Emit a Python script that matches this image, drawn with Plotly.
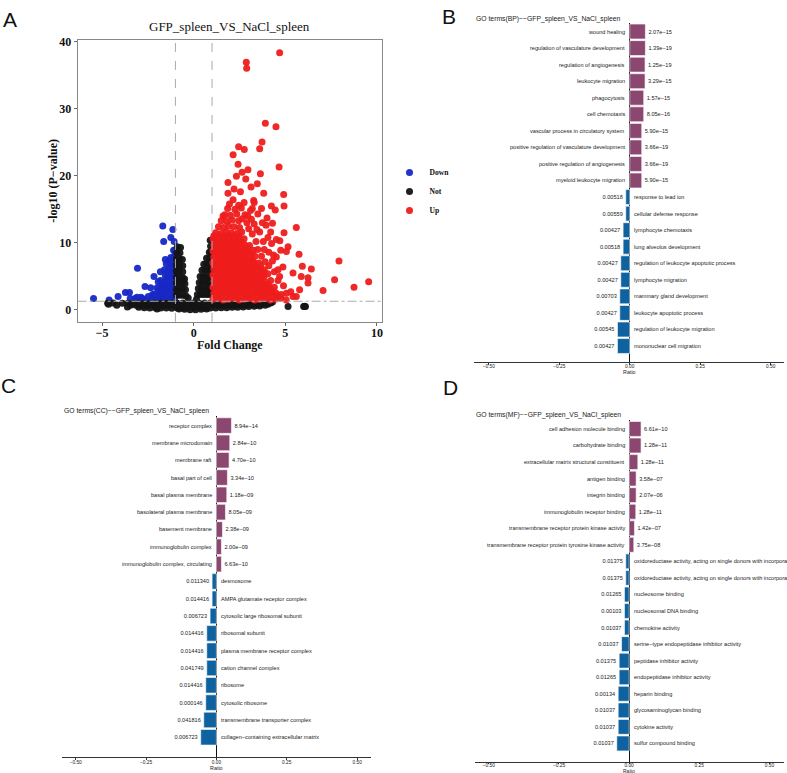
import plotly.graph_objects as go

SERIF = "Liberation Serif, Times New Roman, serif"
SANS = "Liberation Sans, Arial, sans-serif"
MINUS = "\u2212"

# ---------------- Panel A : volcano data ----------------
UP_POINTS = [
    (4.69, 38.3), (2.87, 36.9), (2.89, 36.0), (3.91, 27.8), (4.49, 27.3), (3.73, 25.0),
    (2.45, 24.3), (2.76, 23.9), (3.60, 24.0), (2.15, 23.1), (4.66, 21.3), (2.42, 21.7),
    (2.96, 20.9), (2.64, 20.5), (2.33, 19.9), (1.87, 19.0), (3.64, 20.3), (2.84, 19.5),
    (4.91, 17.2), (4.93, 15.5), (1.87, 17.4), (3.13, 18.3), (3.47, 18.8), (3.82, 17.4),
    (4.24, 15.5), (4.45, 14.9), (3.27, 16.3), (5.60, 12.3), (4.93, 11.5), (4.51, 10.5),
    (5.15, 9.4), (5.06, 8.7), (5.75, 8.3), (5.93, 6.5), (6.42, 6.1), (7.93, 7.3),
    (7.69, 4.5), (9.55, 4.2), (8.75, 3.4), (7.06, 2.9), (6.24, 4.0), (5.87, 5.0),
    (5.42, 5.5), (6.24, 4.8), (5.78, 3.0), (5.06, 2.5), (5.42, 2.0), (4.87, 6.4),
    (4.69, 5.0), (4.51, 7.9), (4.75, 8.9),
    # dense core
    (1.05, 1.6), (1.35, 1.7), (1.62, 1.5), (1.90, 1.6), (2.20, 1.7), (2.48, 1.5), (2.75, 1.6),
    (3.05, 1.7), (3.33, 1.5), (3.60, 1.6), (3.90, 1.7), (4.18, 1.5), (4.45, 1.6), (4.75, 1.7), (5.05, 1.5),
    (1.25, 2.05), (1.52, 2.05), (1.80, 2.0), (2.08, 2.1), (2.36, 2.05), (2.64, 2.0), (2.92, 2.1),
    (3.20, 2.05), (3.48, 2.0), (3.78, 2.1), (4.05, 2.05), (4.35, 2.0), (4.62, 2.1),
    (1.10, 2.5), (1.40, 2.4), (1.68, 2.6), (1.95, 2.5), (2.25, 2.4), (2.52, 2.6), (2.82, 2.5),
    (3.10, 2.4), (3.38, 2.6), (3.66, 2.5), (3.95, 2.4), (4.22, 2.6), (4.50, 2.5), (4.78, 2.3),
    (1.22, 2.95), (1.50, 2.95), (1.78, 2.9), (2.05, 3.0), (2.33, 2.95), (2.60, 2.9), (2.88, 3.0),
    (3.15, 2.95), (3.44, 2.9), (3.72, 3.0), (4.00, 2.95), (4.28, 2.9),
    (1.05, 3.4), (1.32, 3.3), (1.60, 3.5), (1.88, 3.4), (2.15, 3.3), (2.45, 3.5), (2.72, 3.4),
    (3.00, 3.3), (3.28, 3.5), (3.56, 3.4), (3.85, 3.3), (4.12, 3.5), (4.40, 3.4),
    (1.25, 3.85), (1.52, 3.85), (1.80, 3.8), (2.08, 3.9), (2.36, 3.85), (2.64, 3.8), (2.92, 3.9),
    (3.20, 3.85), (3.48, 3.8), (3.76, 3.9), (4.05, 3.85),
    (1.10, 4.3), (1.38, 4.2), (1.66, 4.4), (1.93, 4.3), (2.22, 4.2), (2.50, 4.4), (2.78, 4.3),
    (3.06, 4.2), (3.34, 4.4), (3.62, 4.3), (3.90, 4.2), (4.20, 4.4),
    (1.22, 4.75), (1.50, 4.75), (1.78, 4.7), (2.05, 4.8), (2.33, 4.75), (2.60, 4.7), (2.88, 4.8),
    (3.16, 4.75), (3.44, 4.7), (3.72, 4.8),
    (1.05, 5.2), (1.33, 5.1), (1.60, 5.3), (1.90, 5.2), (2.18, 5.1), (2.46, 5.3), (2.74, 5.2),
    (3.02, 5.1), (3.30, 5.3), (3.58, 5.2), (3.86, 5.1), (4.05, 5.4),
    (1.25, 5.65), (1.52, 5.65), (1.80, 5.6), (2.08, 5.7), (2.36, 5.65), (2.64, 5.6), (2.92, 5.7),
    (3.20, 5.65), (3.48, 5.6), (3.75, 5.7),
    (1.10, 6.1), (1.38, 6.0), (1.66, 6.2), (1.95, 6.1), (2.22, 6.0), (2.50, 6.2), (2.78, 6.1),
    (3.06, 6.0), (3.35, 6.2), (3.62, 6.1), (3.85, 6.0),
    (1.22, 6.55), (1.50, 6.55), (1.78, 6.5), (2.05, 6.6), (2.33, 6.55), (2.60, 6.5), (2.88, 6.6),
    (3.16, 6.55), (3.44, 6.5),
    (1.05, 7.0), (1.32, 6.9), (1.60, 7.1), (1.88, 7.0), (2.16, 6.9), (2.44, 7.1), (2.72, 7.0),
    (3.00, 6.9), (3.28, 7.1), (3.56, 7.0),
    (1.25, 7.45), (1.52, 7.45), (1.80, 7.4), (2.08, 7.5), (2.36, 7.45), (2.64, 7.4), (2.92, 7.5), (3.20, 7.45),
    (1.10, 7.9), (1.38, 7.8), (1.66, 8.0), (1.94, 7.9), (2.22, 7.8), (2.50, 8.0), (2.78, 7.9),
    (3.06, 7.8), (3.34, 8.0),
    (1.22, 8.35), (1.50, 8.35), (1.78, 8.3), (2.05, 8.4), (2.33, 8.35), (2.60, 8.3), (2.88, 8.4), (3.15, 8.35),
    (1.05, 8.8), (1.32, 8.7), (1.60, 8.9), (1.88, 8.8), (2.16, 8.7), (2.44, 8.9), (2.72, 8.8),
    (3.00, 8.7), (3.25, 8.9),
    (1.25, 9.25), (1.52, 9.25), (1.80, 9.2), (2.08, 9.3), (2.36, 9.25), (2.64, 9.2), (2.92, 9.3),
    (1.10, 9.7), (1.38, 9.6), (1.66, 9.8), (1.94, 9.7), (2.22, 9.6), (2.50, 9.8), (2.78, 9.7), (3.05, 9.6),
    (1.22, 10.15), (1.50, 10.15), (1.78, 10.1), (2.05, 10.2), (2.33, 10.15), (2.60, 10.1),
    (1.05, 10.6), (1.35, 10.5), (1.62, 10.7), (1.90, 10.6), (2.18, 10.5), (2.46, 10.7), (2.75, 10.6),
    (1.10, 11.05), (1.38, 11.05), (1.65, 11.0), (1.92, 11.1), (2.20, 11.05), (2.48, 11.0),
    (1.20, 11.5), (1.50, 11.4), (1.78, 11.6), (2.05, 11.5), (2.35, 11.4), (2.62, 11.6),
    (1.35, 12.4), (1.62, 12.3), (1.90, 12.5), (2.20, 12.4), (2.50, 12.3),
    (1.50, 13.3), (1.80, 13.2), (2.10, 13.4), (2.45, 13.3),
    (1.70, 14.2), (2.00, 14.1), (2.35, 14.3), (2.80, 14.2),
    (1.85, 15.1), (2.25, 15.0), (2.60, 15.2), (3.20, 15.1),
    # scattered fringe
    (3.50, 9.0), (3.70, 8.0), (3.90, 7.2), (3.40, 10.2), (3.20, 11.3), (3.00, 12.1), (2.90, 13.0),
    (3.30, 12.8), (3.60, 11.6), (3.80, 10.2), (4.10, 8.6), (4.30, 7.3), (4.10, 6.6), (4.40, 5.7),
    (4.60, 4.4), (4.90, 3.6), (5.30, 2.7), (5.60, 2.0), (4.25, 9.9), (3.95, 12.6), (3.50, 14.3),
    (3.10, 14.8), (2.75, 16.0), (2.45, 15.6), (2.15, 16.4), (1.95, 15.8), (1.60, 14.0), (2.55, 17.6),
    (2.20, 18.0), (3.30, 16.0), (3.70, 15.1), (4.00, 13.7), (4.30, 12.9), (4.70, 10.3), (4.20, 11.6),
    (3.75, 13.0), (4.05, 10.8), (3.45, 12.0), (2.95, 14.0), (2.65, 13.6), (3.15, 13.5), (3.85, 9.0),
    (4.35, 8.2), (3.65, 6.6), (4.60, 6.0),
]

DOWN_POINTS = [
    (-5.47, 1.7), (-4.62, 1.5), (-4.13, 2.0), (-3.73, 2.6), (-3.51, 2.6), (-3.07, 6.2),
    (-3.47, 1.7), (-3.20, 1.7), (-2.80, 1.7), (-2.66, 3.5), (-2.35, 3.3), (-2.17, 5.0),
    (-1.82, 5.7), (-1.69, 12.5), (-1.14, 12.0), (-1.25, 10.8), (-1.64, 10.2), (-1.07, 10.2),
    (-1.55, 7.5), (-1.36, 7.4), (-1.94, 4.2), (-2.25, 2.3), (-2.48, 2.0), (-2.88, 1.9), (-3.10, 1.9),
    (-1.05, 1.6), (-1.30, 1.6), (-1.55, 1.5), (-1.80, 1.6), (-2.05, 1.5), (-2.30, 1.6), (-2.60, 1.5),
    (-1.20, 2.05), (-1.45, 2.05), (-1.70, 2.0), (-1.95, 2.1), (-2.20, 2.0),
    (-1.10, 2.5), (-1.35, 2.5), (-1.60, 2.4), (-1.85, 2.5), (-2.10, 2.4),
    (-1.20, 2.95), (-1.45, 2.95), (-1.70, 2.9), (-1.90, 3.0),
    (-1.05, 3.4), (-1.30, 3.4), (-1.55, 3.3), (-1.80, 3.4), (-2.00, 3.3),
    (-1.20, 3.85), (-1.45, 3.85), (-1.70, 3.8),
    (-1.10, 4.3), (-1.35, 4.3), (-1.60, 4.2), (-1.82, 4.4),
    (-1.20, 4.75), (-1.45, 4.75),
    (-1.05, 5.2), (-1.30, 5.2), (-1.55, 5.1),
    (-1.20, 5.65), (-1.45, 5.65),
    (-1.10, 6.1), (-1.35, 6.1), (-1.60, 6.0),
    (-1.20, 6.55),
    (-1.05, 7.0), (-1.30, 7.0), (-1.50, 6.9),
    (-1.10, 7.9), (-1.25, 7.8),
    (-1.05, 8.8), (-1.10, 8.9),
]

NOT_POINTS = [
    # left arm of the V
    (-0.90, 9.4), (-0.72, 9.3), (-0.93, 8.5), (-0.75, 8.5),
    (-0.95, 7.6), (-0.77, 7.6), (-0.62, 7.5), (-0.95, 6.7), (-0.78, 6.7), (-0.60, 6.6),
    (-0.95, 5.8), (-0.78, 5.8), (-0.60, 5.7), (-0.95, 4.9), (-0.78, 4.9), (-0.60, 4.8), (-0.50, 4.6),
    (-0.95, 4.0), (-0.78, 4.0), (-0.62, 4.0), (-0.48, 3.9), (-0.95, 3.1), (-0.78, 3.1), (-0.62, 3.1),
    (-0.45, 3.0), (-0.95, 2.2), (-0.78, 2.2), (-0.60, 2.2), (-0.42, 2.1), (-0.30, 1.8),
    # right arm of the V
    (0.90, 10.4), (0.92, 9.5), (0.85, 8.6), (0.95, 8.6), (0.70, 7.7), (0.88, 7.7),
    (0.55, 6.8), (0.72, 6.8), (0.90, 6.8), (0.45, 5.9), (0.62, 5.9), (0.80, 5.9), (0.95, 5.9),
    (0.35, 5.0), (0.52, 5.0), (0.70, 5.0), (0.87, 5.0), (0.30, 4.1), (0.47, 4.1), (0.64, 4.1),
    (0.82, 4.1), (0.95, 4.1), (0.25, 3.2), (0.42, 3.2), (0.60, 3.2), (0.78, 3.2), (0.94, 3.2),
    (0.20, 2.3), (0.37, 2.3), (0.55, 2.3), (0.73, 2.3), (0.90, 2.3), (0.15, 1.6),
    # floor below the p-value threshold
    (-0.80, 0.15), (-0.50, 0.10), (-0.20, 0.05), (0.10, 0.05), (0.40, 0.10), (0.70, 0.15),
    (-3.00, 0.40), (-2.70, 0.35), (-2.40, 0.30), (-2.10, 0.35), (-1.80, 0.30), (-1.50, 0.30),
    (-1.20, 0.25), (-0.90, 0.30), (-0.60, 0.35), (-0.30, 0.40), (0.00, 0.40), (0.30, 0.40),
    (0.60, 0.35), (0.90, 0.30), (1.20, 0.30), (1.50, 0.35), (1.80, 0.35), (2.10, 0.40),
    (2.40, 0.40), (2.70, 0.45), (3.00, 0.50), (3.30, 0.55), (3.60, 0.60),
    (-4.20, 0.70), (-3.45, 0.70), (-3.15, 0.70), (-2.85, 0.65), (-2.55, 0.65), (-2.25, 0.70),
    (-1.95, 0.65), (-1.65, 0.65), (-1.35, 0.70), (-1.05, 0.65), (-0.75, 0.70), (-0.45, 0.70),
    (-0.15, 0.70), (0.15, 0.70), (0.45, 0.70), (0.75, 0.65), (1.05, 0.70), (1.35, 0.65),
    (1.65, 0.70), (1.95, 0.70), (2.25, 0.70), (2.55, 0.75), (2.85, 0.75), (3.15, 0.80),
    (3.45, 0.80), (3.75, 0.85), (4.05, 0.85),
    (-4.70, 1.00), (-4.40, 1.05), (-3.90, 1.00), (-3.60, 1.00), (-3.30, 0.95), (-3.00, 1.00),
    (-2.70, 1.00), (-2.40, 0.95), (-2.10, 1.00), (-1.80, 1.00), (-1.50, 1.00), (-1.20, 1.05),
    (-0.90, 1.00), (-0.60, 1.05), (-0.30, 1.00), (0.00, 1.05), (0.30, 1.00), (0.60, 1.05),
    (0.90, 1.00), (1.20, 1.00), (1.50, 1.05), (1.80, 1.00), (2.10, 1.00), (2.40, 1.05),
    (2.70, 1.00), (3.00, 1.05), (3.30, 1.00), (3.60, 1.05), (3.90, 1.00), (4.20, 1.05),
    (-4.65, 0.85), (-3.62, 0.45), (-2.00, 0.15), (5.15, 0.50), (6.00, 0.50), (6.10, 0.50),
    (6.05, 0.55), (4.30, 1.20), (3.90, 0.70),
]

VOLCANO_TITLE = "GFP_spleen_VS_NaCl_spleen"
FC_CUT = [-1, 1]
P_CUT = 1.3
X_TICKS = [-5, 0, 5, 10]
Y_TICKS = [0, 10, 20, 30, 40]

# ---------------- Panel B : GO BP ----------------
BP_TERMS = ["wound healing", "regulation of vasculature development", "regulation of angiogenesis",
            "leukocyte migration", "phagocytosis", "cell chemotaxis",
            "vascular process in circulatory system", "positive regulation of vasculature development",
            "positive regulation of angiogenesis", "myeloid leukocyte migration",
            "response to lead ion", "cellular defense response", "lymphocyte chemotaxis",
            "lung alveolus development", "regulation of leukocyte apoptotic process",
            "lymphocyte migration", "mammary gland development", "leukocyte apoptotic process",
            "regulation of leukocyte migration", "mononuclear cell migration"]
BP_RATIO = [0.0554, 0.0554, 0.0542, 0.0542, 0.0495, 0.0495, 0.0425, 0.0425, 0.0425, 0.0425,
            -0.0142, -0.0142, -0.0236, -0.0236, -0.0318, -0.0318, -0.0354, -0.0354, -0.0436, -0.0436]
BP_PVAL = ["2.07e−15", "1.39e−19", "1.25e−19", "3.29e−15", "1.57e−15", "8.05e−16", "5.90e−15",
           "3.66e−19", "3.66e−19", "5.90e−15", "0.00518", "0.00559", "0.00427", "0.00518",
           "0.00427", "0.00427", "0.00703", "0.00427", "0.00545", "0.00427"]

# ---------------- Panel C : GO CC ----------------
CC_TERMS = ["receptor complex", "membrane microdomain", "membrane raft", "basal part of cell",
            "basal plasma membrane", "basolateral plasma membrane", "basement membrane",
            "immunoglobulin complex", "immunoglobulin complex, circulating", "desmosome",
            "AMPA glutamate receptor complex", "cytosolic large ribosomal subunit", "ribosomal subunit",
            "plasma membrane receptor complex", "cation channel complex", "ribosome",
            "cytosolic ribosome", "transmembrane transporter complex",
            "collagen−containing extracellular matrix"]
CC_RATIO = [0.0534, 0.0474, 0.0450, 0.0390, 0.0368, 0.0320, 0.0214, 0.0178, 0.0178,
            -0.0154, -0.0154, -0.0225, -0.0344, -0.0344, -0.0344, -0.0380, -0.0380, -0.0450, -0.0558]
CC_PVAL = ["8.94e−14", "2.84e−10", "4.70e−10", "3.34e−10", "1.18e−09", "8.05e−09", "2.38e−09",
           "2.00e−09", "6.63e−10", "0.011340", "0.014416", "0.006723", "0.014416", "0.014416",
           "0.041749", "0.014416", "0.000146", "0.041816", "0.006723"]

# ---------------- Panel D : GO MF ----------------
MF_TERMS = ["cell adhesion molecule binding", "carbohydrate binding",
            "extracellular matrix structural constituent", "antigen binding", "integrin binding",
            "immunoglobulin receptor binding", "transmembrane receptor protein kinase activity",
            "transmembrane receptor protein tyrosine kinase activity",
            "oxidoreductase activity, acting on single donors with incorporation of molecular oxygen",
            "oxidoreductase activity, acting on single donors with incorporation of molecular oxygen, incorporation of two atoms of oxygen",
            "nucleosome binding", "nucleosomal DNA binding", "chemokine activity",
            "serine−type endopeptidase inhibitor activity", "peptidase inhibitor activity",
            "endopeptidase inhibitor activity", "heparin binding", "glycosaminoglycan binding",
            "cytokine activity", "sulfur compound binding"]
MF_RATIO = [0.0426, 0.0426, 0.0310, 0.0250, 0.0250, 0.0237, 0.0190, 0.0166,
            -0.0120, -0.0120, -0.0166, -0.0166, -0.0166, -0.0270, -0.0355, -0.0355,
            -0.0390, -0.0390, -0.0390, -0.0440]
MF_PVAL = ["6.61e−10", "1.28e−11", "1.28e−11", "3.58e−07", "2.07e−06", "1.28e−11", "1.42e−07",
           "3.75e−08", "0.01375", "0.01375", "0.01265", "0.00103", "0.01037", "0.01037", "0.01375",
           "0.01265", "0.00134", "0.01037", "0.01037", "0.01037"]

RATIO_TICKS = [-0.5, -0.25, 0.0, 0.25, 0.5]
RATIO_TICKTEXT = ["−0.50", "−0.25", "0.00", "0.25", "0.50"]

UP_BAR = "#8C4770"
DOWN_BAR = "#0F62A0"

W, H = 787, 773


def px_x(p):
    return p / W


def px_y(p):
    return 1 - p / H


fig = go.Figure()

# ---------------- volcano traces ----------------
groups = [("Down", DOWN_POINTS, "rgba(24,40,196,0.95)"),
          ("Not", NOT_POINTS, "rgba(20,20,20,0.95)"),
          ("Up", UP_POINTS, "rgba(238,28,28,0.95)")]
for name, pts, col in groups:
    fig.add_trace(go.Scatter(
        x=[p[0] for p in pts], y=[p[1] for p in pts], mode="markers", name=name,
        marker=dict(size=7, color=col, line=dict(width=0)),
        xaxis="x", yaxis="y", hoverinfo="skip"))

annotations = []
shapes = []

# ---------------- GO bar panels ----------------
panels = [
    ("x2", "y2", BP_TERMS, BP_RATIO, BP_PVAL, "GO terms(BP)−−GFP_spleen_VS_NaCl_spleen",
     (475, 785), (-0.551, 0.547), (18, 359), (26.7, 16.66), (475, 14), 369, -2, 2, 5.4),
    ("x3", "y3", CC_TERMS, CC_RATIO, CC_PVAL, "GO terms(CC)−−GFP_spleen_VS_NaCl_spleen",
     (61.7, 371.7), (-0.550, 0.550), (414, 756.7), (423.3, 17.43), (62, 409), 767.5, -2, 2, 5.4),
    ("x4", "y4", MF_TERMS, MF_RATIO, MF_PVAL, "GO terms(MF)−−GFP_spleen_VS_NaCl_spleen",
     (475.7, 785), (-0.549, 0.552), (418, 761.8), (426.7, 16.66), (475, 413), 771, -3, 1, 5.0),
]

layout_axes = {}
for (xa, ya, terms, ratios, pvals, title, xdom_px, xr, ydom_px, rows, tpos,
     ratio_y, stand, tlen, ratio_size) in panels:
    first, pitch = rows
    top_idx = (ydom_px[0] - first) / pitch
    bot_idx = (ydom_px[1] - first) / pitch
    fig.add_trace(go.Bar(
        x=ratios, y=terms, orientation="h", xaxis=xa, yaxis=ya, showlegend=False,
        marker=dict(color=[UP_BAR if r > 0 else DOWN_BAR for r in ratios],
                    line=dict(color="white", width=0.6)),
        width=0.9, text=pvals, textposition="outside", textangle=0, constraintext="none",
        textfont=dict(family=SANS, size=5.6, color="#222222"), cliponaxis=False,
        hoverinfo="skip"))
    for t, r in zip(terms, ratios):
        annotations.append(dict(
            x=0, y=t, xref=xa, yref=ya, text=t, showarrow=False,
            xanchor="right" if r > 0 else "left", xshift=-2.5 if r > 0 else 2.5,
            font=dict(family=SANS, size=5.6, color="#222222")))
    annotations.append(dict(x=px_x(tpos[0]), y=px_y(tpos[1]), xref="paper", yref="paper",
                            text=title, showarrow=False, xanchor="left", yanchor="middle",
                            font=dict(family=SANS, size=6.8, color="#222222")))
    annotations.append(dict(x=0, y=px_y(ratio_y), xref=xa, yref="paper", text="Ratio",
                            showarrow=False, xanchor="center", yanchor="middle",
                            font=dict(family=SANS, size=ratio_size, color="#222222")))
    xkey = "xaxis" + xa[1:]
    ykey = "yaxis" + ya[1:]
    layout_axes[xkey] = dict(
        domain=[px_x(xdom_px[0]), px_x(xdom_px[1])], range=list(xr), anchor=ya,
        showline=True, linecolor="#333333", linewidth=1, ticks="outside", ticklen=tlen,
        tickcolor="#333333", tickvals=RATIO_TICKS, ticktext=RATIO_TICKTEXT,
        tickfont=dict(family=SANS, size=4.8, color="#222222"), ticklabelstandoff=stand,
        showgrid=False, zeroline=True, zerolinecolor="#111111", zerolinewidth=1)
    layout_axes[ykey] = dict(
        domain=[px_y(ydom_px[1]), px_y(ydom_px[0])], anchor=xa, type="category",
        categoryorder="array", categoryarray=terms, range=[bot_idx, top_idx],
        showticklabels=False, showgrid=False, showline=False, ticks="", zeroline=False)

# ---------------- volcano axes & decorations ----------------
for xv in FC_CUT:
    shapes.append(dict(type="line", xref="x", yref="y domain", x0=xv, x1=xv, y0=0, y1=1,
                       line=dict(color="#AAAAAA", width=1, dash="dash"), layer="above"))
shapes.append(dict(type="line", xref="x domain", yref="y", x0=0, x1=1, y0=P_CUT, y1=P_CUT,
                   line=dict(color="#AAAAAA", width=1, dash="dashdot"), layer="above"))

annotations.append(dict(x=px_x(230), y=px_y(22), xref="paper", yref="paper", text=VOLCANO_TITLE,
                        showarrow=False, xanchor="center", yanchor="middle",
                        font=dict(family=SERIF, size=13, color="#111111")))
annotations.append(dict(x=px_x(230), y=px_y(342), xref="paper", yref="paper", text="<b>Fold Change</b>",
                        showarrow=False, xanchor="center", yanchor="middle",
                        font=dict(family=SERIF, size=12, color="#111111")))
annotations.append(dict(x=px_x(53), y=px_y(177), xref="paper", yref="paper",
                        text="<b>-log10 (P−value)</b>", textangle=-90,
                        showarrow=False, xanchor="center", yanchor="middle",
                        font=dict(family=SERIF, size=12, color="#111111")))

# panel letters
for letter, (lx, ly) in zip(["A", "B", "C", "D"], [(10, 15), (450, 12), (9, 383), (451, 385)]):
    annotations.append(dict(x=px_x(lx), y=px_y(ly), xref="paper", yref="paper", text=letter,
                            showarrow=False, xanchor="center", yanchor="middle",
                            font=dict(family=SANS, size=21, color="#111111")))

fig.update_layout(
    width=W, height=H, margin=dict(l=0, r=0, t=0, b=0),
    paper_bgcolor="white", plot_bgcolor="white",
    showlegend=True,
    legend=dict(x=px_x(390), y=px_y(154), xanchor="left", yanchor="top",
                font=dict(family=SERIF, size=7.6, color="#111111", weight=700),
                bgcolor="rgba(0,0,0,0)"),
    xaxis=dict(domain=[px_x(77.7), px_x(382.7)], range=[-6.34, 10.29], anchor="y",
               showline=True, mirror=True, linecolor="#888888", linewidth=1,
               ticks="outside", ticklen=3, tickcolor="#666666", tickvals=X_TICKS,
               ticktext=[MINUS + "5", "0", "5", "10"], ticklabelstandoff=-3,
               tickfont=dict(family=SERIF, size=12, color="#111111", weight=700),
               showgrid=False, zeroline=False),
    yaxis=dict(domain=[px_y(319), px_y(35)], range=[-1.78, 40.24], anchor="x",
               showline=True, mirror=True, linecolor="#888888", linewidth=1,
               ticks="outside", ticklen=3, tickcolor="#666666", tickvals=Y_TICKS,
               tickfont=dict(family=SERIF, size=12, color="#111111", weight=700),
               showgrid=False, zeroline=False),
    annotations=annotations, shapes=shapes, bargap=0.1,
    **layout_axes,
)

# the page body normally adds an 8 px margin; remove it so the figure fills the window
fig.write_html("out.html", config={"displayModeBar": False},
               post_script="document.body.style.margin='0px';")
